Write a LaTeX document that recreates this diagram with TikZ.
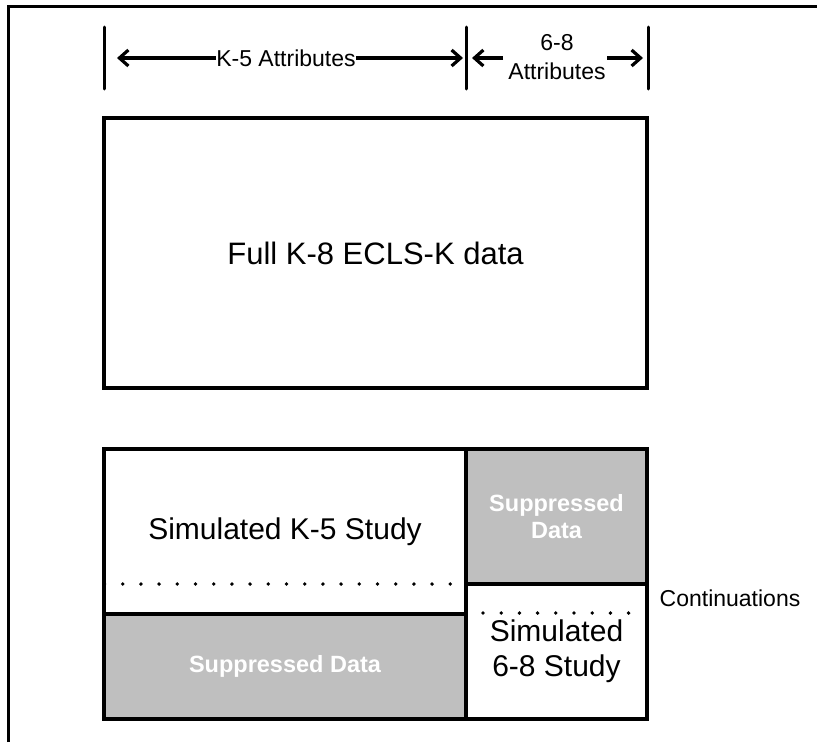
\documentclass[tikz,border=0pt]{standalone}
\usepackage{fontspec}
\setmainfont{Liberation Sans}
\usetikzlibrary{arrows.meta}
\definecolor{supgray}{RGB}{191,191,191}
\begin{document}
\begin{tikzpicture}[x=1pt,y=-1pt,
  frameline/.style={line width=2.6pt},
  cell/.style={draw, line width=3.8pt, inner sep=0pt, align=center},
  tickline/.style={line width=3pt, line cap=round},
  dimarrow/.style={line width=3.2pt, -{Straight Barb[length=9pt,width=16pt]}},
  dotrow/.style={line width=3.8pt, line cap=round, dash pattern=on 0pt off 18.2pt},
  lbl/.style={inner sep=0pt, align=center, font=\fontsize{23}{29}\selectfont},
  bigtxt/.style={font=\fontsize{30}{35}\selectfont},
  suptxt/.style={fill=supgray, text=white, font=\fontsize{23.5}{27}\selectfont\bfseries}]
\useasboundingbox (0,0) rectangle (817,742);
\fill[white] (0,0) rectangle (817,742);
% outer frame (partial)
\coordinate (fb) at (8.7,742);
\coordinate (fc) at (8.7,6.7);
\coordinate (fr) at (817,6.7);
\draw[frameline] (fb) -- (fc) -- (fr);
% dimension ticks
\coordinate (t1a) at (104,27); \coordinate (t1b) at (104,89);
\coordinate (t2a) at (466,27); \coordinate (t2b) at (466,89);
\coordinate (t3a) at (648,27); \coordinate (t3b) at (648,89);
\draw[tickline] (t1a) -- (t1b);
\draw[tickline] (t2a) -- (t2b);
\draw[tickline] (t3a) -- (t3b);
% K-5 attributes
\node[lbl] (k5) at (286,58) {K-5 Attributes};
\coordinate (k5L) at (117,58);
\coordinate (k5R) at (463,58);
\draw[dimarrow] (k5.west) -- (k5L);
\draw[dimarrow] (k5.east) -- (k5R);
% 6-8 attributes
\node[lbl] (a68) at (557,57) {6-8\\Attributes};
\coordinate (a68Ls) at (503,58);
\coordinate (a68L) at (472,58);
\coordinate (a68Rs) at (607,58);
\coordinate (a68R) at (643,58);
\draw[dimarrow] (a68Ls) -- (a68L);
\draw[dimarrow] (a68Rs) -- (a68R);
% top box
\node[cell, minimum width=543pt, minimum height=270pt, font=\fontsize{31}{36}\selectfont]
  (full) at (375.5,253) {Full K-8 ECLS-K data};
% bottom box cells
\node[cell, bigtxt, minimum width=362pt, minimum height=165pt] (k5s) at (285,531.5) {Simulated K-5 Study};
\node[cell, suptxt, minimum width=181pt, minimum height=135pt] (sup1) at (556.5,516.5) {Suppressed\\Data};
\node[cell, suptxt, minimum width=362pt, minimum height=105pt] (sup2) at (285,666.5) {Suppressed Data};
\node[cell, bigtxt, minimum width=181pt, minimum height=135pt] (s68) at (556.5,651.5) {Simulated\\6-8 Study};
% dotted continuation lines
\coordinate (d1a) at (104.5,584); \coordinate (d1b) at (466,584);
\coordinate (d2a) at (483,613); \coordinate (d2b) at (631,613);
\draw[dotrow] (d1a) -- (d1b);
\draw[dotrow] (d2a) -- (d2b);
\node[lbl] (cont) at (730,598) {Continuations};
\end{tikzpicture}
\end{document}
